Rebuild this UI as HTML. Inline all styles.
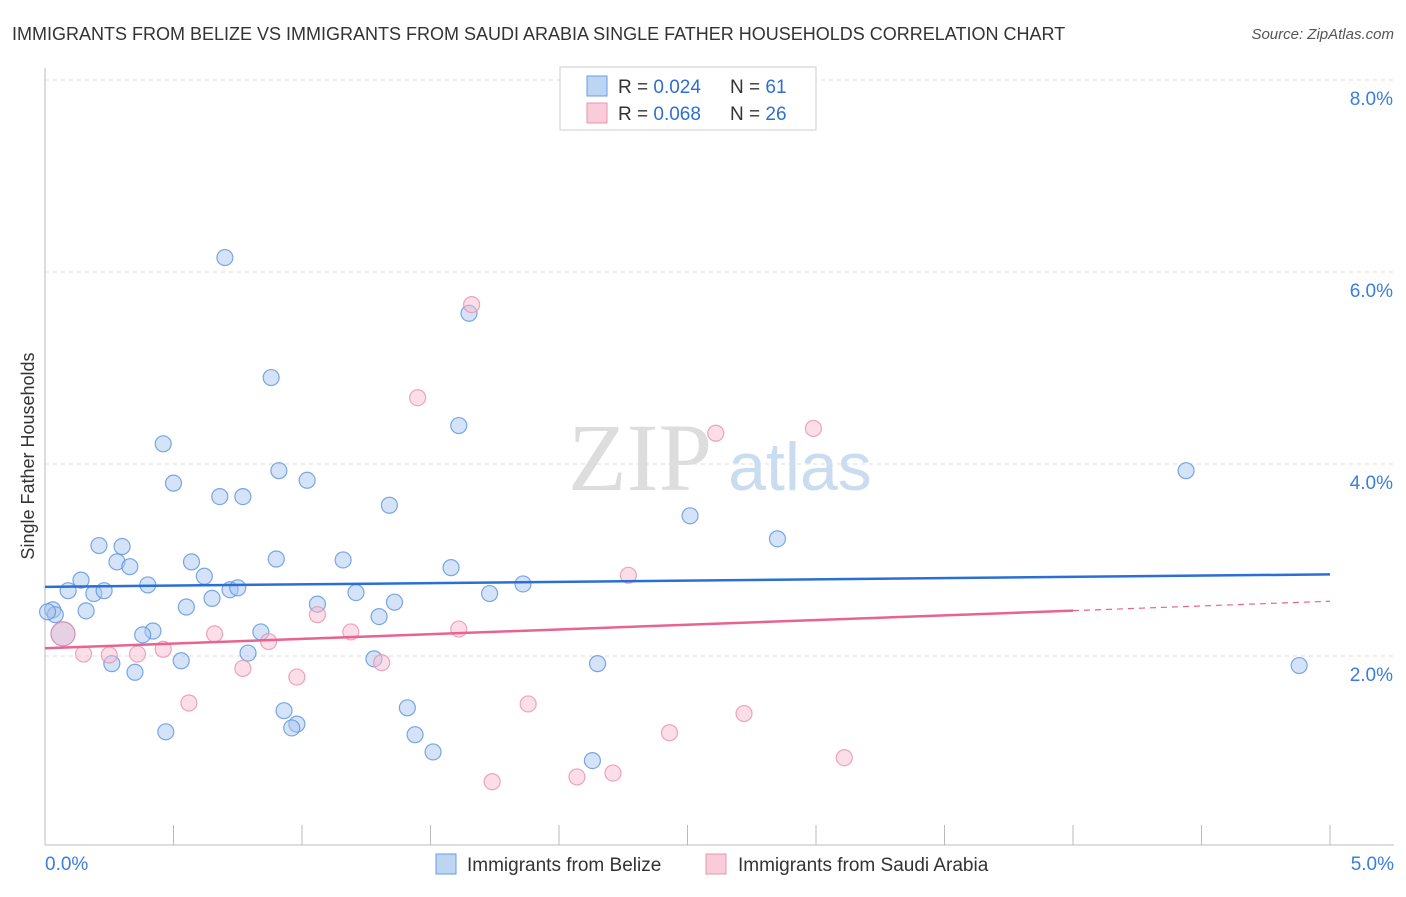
<!DOCTYPE html>
<html><head><meta charset="utf-8"><style>
body{margin:0;background:#fff;font-family:"Liberation Sans",sans-serif;}
</style></head><body>
<svg id="c" width="1406" height="892" xmlns="http://www.w3.org/2000/svg">
<text x="12" y="40" font-size="18" fill="#333">IMMIGRANTS FROM BELIZE VS IMMIGRANTS FROM SAUDI ARABIA SINGLE FATHER HOUSEHOLDS CORRELATION CHART</text>
<text x="1394" y="39" font-size="15" fill="#555" font-style="italic" text-anchor="end">Source: ZipAtlas.com</text>
<text x="640" y="490" font-size="96" fill="#ddd" font-family="Liberation Serif,serif" text-anchor="middle">ZIP</text>
<text x="800" y="490" font-size="68" fill="#c9dcf0" text-anchor="middle">atlas</text>
<text transform="translate(34,456) rotate(-90)" font-size="18" fill="#333" text-anchor="middle">Single Father Households</text>
<g id="grid"></g><g id="axes"></g><g id="marks"></g>
<g>
<rect x="560" y="67" width="256" height="63" fill="#fff" stroke="#ccc"/>
<rect x="587" y="76" width="20" height="20" fill="#bcd5f3" stroke="#6a9de0"/>
<rect x="587" y="103" width="20" height="20" fill="#f9ccda" stroke="#e993b0"/>
<text x="618" y="93" font-size="19" fill="#333">R = <tspan fill="#2f6fd0">0.024</tspan></text>
<text x="730" y="93" font-size="19" fill="#333">N = <tspan fill="#2f6fd0"> 61</tspan></text>
<text x="618" y="120" font-size="19" fill="#333">R = <tspan fill="#2f6fd0">0.068</tspan></text>
<text x="730" y="120" font-size="19" fill="#333">N = <tspan fill="#2f6fd0">26</tspan></text>
</g>
<g>
<rect x="436" y="854" width="20" height="20" fill="#bcd5f3" stroke="#6a9de0"/>
<text x="467" y="871" font-size="19" fill="#333">Immigrants from Belize</text>
<rect x="706" y="854" width="20" height="20" fill="#f9ccda" stroke="#e993b0"/>
<text x="738" y="871" font-size="19" fill="#333">Immigrants from Saudi Arabia</text>
</g>
</svg>
<script>
const yTicks=[2,4,6,8];
const xTickLabels=["0.0%","5.0%"];
const belizeX=[0.70,0.88,1.65,0.46,1.61,0.50,0.91,1.02,0.68,0.77,1.34,4.44,2.51,2.85,0.21,0.30,0.28,0.33,0.57,0.90,1.16,1.58,0.14,0.09,0.19,0.23,0.40,0.62,0.72,0.75,1.21,1.86,1.73,0.55,0.65,0.03,0.16,1.06,1.36,1.30,0.04,0.42,0.38,0.84,0.07,0.53,0.26,0.35,0.79,1.28,2.15,4.88,1.41,0.93,0.98,0.96,0.47,1.44,1.51,2.13,0.01];
const belizeY=[6.14,4.89,5.56,4.20,4.39,3.79,3.92,3.82,3.65,3.65,3.56,3.92,3.45,3.21,3.14,3.13,2.97,2.92,2.97,3.00,2.99,2.91,2.78,2.67,2.64,2.67,2.73,2.82,2.68,2.70,2.65,2.74,2.64,2.50,2.59,2.47,2.46,2.53,2.55,2.40,2.42,2.25,2.21,2.24,2.22,1.94,1.91,1.82,2.02,1.96,1.91,1.89,1.45,1.42,1.28,1.24,1.20,1.17,0.99,0.90,2.45];
const saudiX=[1.66,1.45,2.61,2.99,2.27,1.06,1.19,1.61,0.66,0.87,0.07,0.15,0.25,0.36,0.46,0.77,0.98,1.31,0.56,1.88,2.72,2.43,3.11,2.21,2.07,1.74];
const saudiY=[5.65,4.68,4.31,4.36,2.83,2.42,2.24,2.27,2.22,2.14,2.22,2.01,2.00,2.01,2.06,1.86,1.77,1.92,1.50,1.49,1.39,1.19,0.93,0.77,0.73,0.68];
const belizeTrend=[2.71,2.84];
const saudiTrend=[2.07,2.56];
const saudiSolidEnd=4.0;
const NS="http://www.w3.org/2000/svg";
const X=v=>45+v*257, Y=v=>847-v*96;
function mk(tag,parent,attrs){const e=document.createElementNS(NS,tag);for(const k in attrs)e.setAttribute(k,attrs[k]);document.getElementById(parent).appendChild(e);return e;}
yTicks.forEach(t=>{
 const l=mk('line','grid',{x1:45,x2:1394,y1:Y(t)+1,y2:Y(t)+1,stroke:'#ddd','stroke-dasharray':'4,4'});
 
 
 const tx=mk('text','grid',{x:1393,y:Y(t)+26,'font-size':19,fill:'#3b7ddd','text-anchor':'end'});tx.textContent=t.toFixed(1)+'%';
 
 
});
let a=mk('line','axes',{x1:45,x2:45,y1:68,y2:845,stroke:'#bbb'});


a=mk('line','axes',{x1:45,x2:1394,y1:845,y2:845,stroke:'#bbb'});


for(let i=1;i<=10;i++){const tk=mk('line','axes',{x1:X(i*0.5),x2:X(i*0.5),y1:825,y2:845,stroke:'#bbb'});
 
 }
[[0,'start',45],[5,'end',1394]].forEach((p,i)=>{const t=mk('text','axes',{x:p[2],y:870,'font-size':19,fill:'#3b7ddd','text-anchor':p[1]});t.textContent=xTickLabels[i];
 
 });
function pts(xs,ys,fill,stroke,name){xs.forEach((x,i)=>{const big=(x<0.1&&Math.abs(ys[i]-2.22)<0.05);
 const c=mk('circle','marks',{cx:X(x),cy:Y(ys[i]),r:big?12:8,fill:fill,'fill-opacity':0.5,stroke:stroke,'stroke-opacity':0.8,'stroke-width':1.2});
 
 });}
pts(belizeX,belizeY,'#a9c8f0','#5b93dd','belize-point');
pts(saudiX,saudiY,'#f7bdd0','#e890ae','saudi-point');
let t=mk('line','marks',{x1:X(0),x2:X(5),y1:Y(belizeTrend[0]),y2:Y(belizeTrend[1]),stroke:'#2a6fd6','stroke-width':2.5});


const sY=v=>saudiTrend[0]+(saudiTrend[1]-saudiTrend[0])*v/5;
t=mk('line','marks',{x1:X(0),x2:X(saudiSolidEnd),y1:Y(sY(0)),y2:Y(sY(saudiSolidEnd)),stroke:'#e8638f','stroke-width':2.5});


t=mk('line','marks',{x1:X(saudiSolidEnd),x2:X(5),y1:Y(sY(saudiSolidEnd)),y2:Y(sY(5)),stroke:'#e8638f','stroke-width':1.2,'stroke-dasharray':'6,5'});


</script>
</body></html>
